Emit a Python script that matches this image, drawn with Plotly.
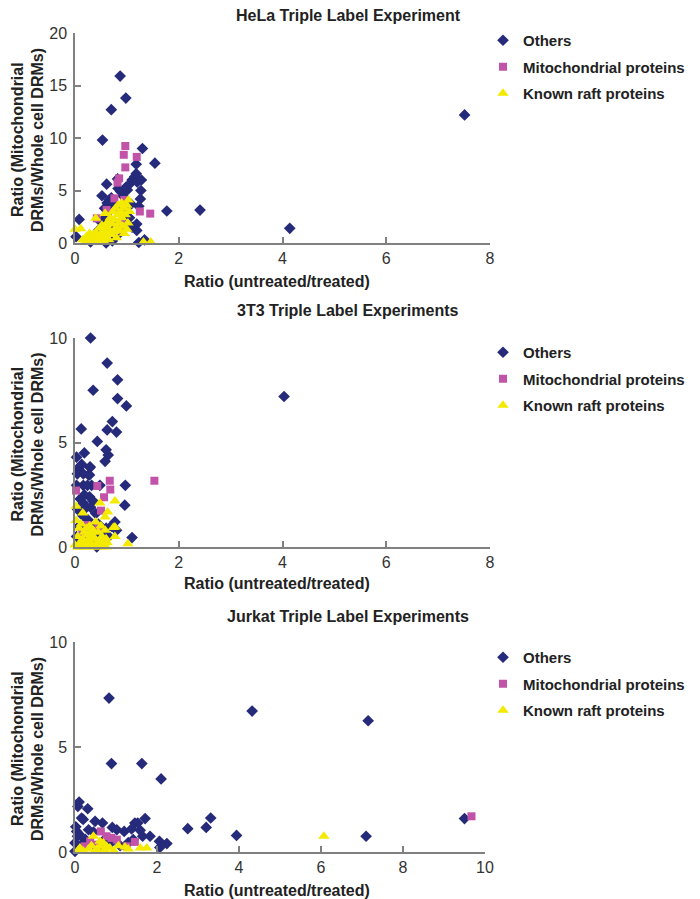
import plotly.graph_objects as go

# page body has an 8px margin, so the figure is drawn 8px in from the top-left corner
OFF = 8
W, H = 700 - OFF, 899 - OFF

# ---------------- Data ----------------
# HeLa
hela_others_x = [0.87,0.98,0.70,7.51,0.53,1.30,1.54,1.18,1.18,1.15,1.10,1.20,1.05,1.28,0.82,0.61,0.83,1.01,1.27,0.52,0.66,0.62,0.70,1.26,1.08,1.23,1.77,2.41,4.14,0.08,0.02,1.19,1.19,1.23,1.34,
                 0.30,0.45,0.50,0.55,0.60,0.65,0.70,0.72,0.75,0.78,0.80,0.85,0.90,0.92,0.95,1.00,1.05,1.10,0.60,0.35,0.88,0.98,0.57,0.68]
hela_others_y = [15.9,13.8,12.7,12.2,9.8,9.0,7.6,7.5,6.6,6.3,6.0,5.8,5.6,6.0,6.1,5.6,5.2,5.05,5.0,4.5,4.1,3.8,4.3,4.2,3.7,3.5,3.05,3.14,1.4,2.25,0.6,1.8,1.2,0.05,0.3,
                 0.1,1.2,2.0,0.5,2.5,1.0,3.2,0.2,2.0,1.4,3.5,0.9,2.8,4.5,1.8,3.0,2.4,1.5,0.0,0.4,4.9,5.3,3.3,3.9]
hela_mito_x = [0.97,0.94,1.19,0.97,0.85,0.82,0.76,0.95,1.25,1.45,0.61,0.42,0.85,0.90]
hela_mito_y = [9.24,8.4,8.2,7.2,6.16,5.75,4.25,4.1,3.0,2.8,3.14,2.35,1.2,2.0]
hela_raft_x = [0.0,0.11,0.40,1.03,1.32,1.46,0.25,0.30,0.33,0.35,0.38,0.40,0.42,0.45,0.47,0.50,0.50,0.52,0.55,0.57,0.58,0.60,0.62,0.63,0.65,0.67,0.68,0.70,0.72,0.73,0.75,0.76,0.78,0.80,0.80,0.82,0.83,0.85,0.86,0.88,0.90,0.90,0.92,0.95,0.97,1.00,1.02,1.05,0.15,0.20,0.22,0.28,0.95,1.00]
hela_raft_y = [1.3,1.35,2.35,4.1,0.1,0.1,0.2,0.5,0.1,0.8,0.3,1.0,0.6,0.2,1.4,0.4,0.9,1.7,0.2,1.1,2.8,0.6,1.5,2.0,0.3,1.2,2.4,0.8,1.8,3.0,1.1,2.2,3.3,1.5,0.5,2.7,3.6,1.9,1.2,3.0,2.4,3.8,1.6,3.3,2.7,3.6,1.9,3.0,0.3,0.1,0.6,0.9,0.9,1.3]

# 3T3
t3_others_x = [0.30,0.62,0.82,0.35,0.82,4.03,0.99,0.72,0.12,0.62,0.80,0.43,0.60,0.18,0.64,0.03,0.58,0.13,0.29,0.07,0.045,0.26,0.03,0.16,0.24,0.32,0.48,0.97,0.28,0.35,0.96,0.10,0.16,0.22,0.77,0.80,1.10,
               0.11,0.29,0.16,0.28,0.05,0.15,0.25,0.40,0.45,0.35,0.20,0.08,0.50,0.55,0.60,0.38,0.12,0.03,0.42,0.65,0.30,0.18,0.70]
t3_others_y = [10.0,8.8,8.0,7.5,7.1,7.2,6.75,6.0,5.65,5.6,5.5,5.05,4.65,4.5,4.4,4.3,4.1,3.95,3.8,3.75,3.5,3.45,2.95,2.95,2.95,2.95,2.95,2.95,2.4,2.2,2.0,2.3,2.1,1.9,1.2,0.8,0.45,
               3.9,3.84,3.5,3.45,1.8,1.5,1.3,1.6,1.1,0.9,0.7,1.0,0.6,0.3,0.9,0.2,0.4,0.5,0.0,0.5,1.9,2.5,1.0]
t3_mito_x = [1.53,0.67,0.68,0.43,0.02,0.56,0.50,0.24,0.15,0.45]
t3_mito_y = [3.17,3.17,2.75,2.92,2.7,2.38,1.74,1.05,0.7,0.95]
t3_raft_x = [0.77,0.48,0.02,0.15,0.02,0.63,0.58,0.77,0.74,0.77,1.02,
             0.0,0.05,0.08,0.10,0.12,0.15,0.18,0.20,0.22,0.25,0.28,0.30,0.32,0.35,0.38,0.40,0.42,0.45,0.48,0.50,0.52,0.55,0.58,0.60,0.62,0.05,0.10,0.20,0.30,0.40,0.50,0.60,0.35,0.25,0.15,0.45]
t3_raft_y = [2.2,2.1,1.95,1.63,1.27,1.67,1.43,0.96,0.93,0.5,0.16,
             0.1,0.5,0.9,0.2,1.1,0.4,0.7,0.05,0.9,0.3,1.0,0.6,0.15,0.8,0.4,1.2,0.2,0.7,0.3,1.0,0.5,0.1,0.8,0.4,0.2,0.0,0.0,0.0,0.0,0.0,0.0,0.0,0.5,0.6,0.25,0.1]

# Jurkat
jk_others_x = [0.83,4.32,7.15,0.89,1.63,2.10,0.10,0.07,0.31,0.16,0.20,0.49,0.67,1.46,1.53,1.71,3.31,9.50,2.75,3.20,0.91,1.02,1.20,1.38,1.59,0.33,3.94,7.10,1.83,2.06,2.24,2.07,0.02,0.04,0.06,0.00,1.65,1.42,0.00,
               0.10,0.25,0.45,0.70,0.85,1.10,1.30,0.55,0.15]
jk_others_y = [7.33,6.71,6.25,4.21,4.21,3.48,2.38,2.17,2.06,1.62,1.55,1.46,1.38,1.38,1.38,1.59,1.62,1.59,1.11,1.17,1.17,1.06,0.98,1.10,1.03,1.06,0.79,0.75,0.75,0.51,0.40,0.22,1.20,0.98,0.75,0.43,0.75,0.59,0.03,
               0.85,0.60,0.95,0.55,0.40,0.30,0.45,0.20,0.35]
jk_mito_x = [9.67,0.63,0.77,1.02,0.89,1.46,0.37,0.24,0.53,1.26]
jk_mito_y = [1.70,0.98,0.75,0.59,0.67,0.48,0.51,0.27,0.35,0.27]
jk_raft_x = [6.07,0.45,0.12,0.69,0.77,0.61,0.53,0.85,0.33,1.06,1.22,1.30,1.59,1.75,0.08,0.61,0.40,0.50,0.72,0.95,0.20]
jk_raft_y = [0.75,0.75,0.19,0.43,0.27,0.27,0.14,0.19,0.14,0.30,0.24,0.14,0.19,0.19,0.08,0.51,0.30,0.05,0.10,0.05,0.05]

titles = ["HeLa Triple Label Experiment", "3T3 Triple Label Experiments", "Jurkat Triple Label Experiments"]
series_names = ["Others", "Mitochondrial proteins", "Known raft proteins"]
xranges = [[0, 8], [0, 8], [0, 10]]
yranges = [[0, 20], [0, 10], [0, 10]]
xticks = [[0, 2, 4, 6, 8], [0, 2, 4, 6, 8], [0, 2, 4, 6, 8, 10]]
yticks = [[0, 5, 10, 15, 20], [0, 5, 10], [0, 5, 10]]

panels = [
    (hela_others_x, hela_others_y, hela_mito_x, hela_mito_y, hela_raft_x, hela_raft_y),
    (t3_others_x, t3_others_y, t3_mito_x, t3_mito_y, t3_raft_x, t3_raft_y),
    (jk_others_x, jk_others_y, jk_mito_x, jk_mito_y, jk_raft_x, jk_raft_y),
]

# ---------------- Layout (screen pixels) ----------------
boxes = [(75, 490, 33, 243), (75, 490, 338, 547), (75, 485, 642, 852)]
title_y = [16, 310, 616]
xtitle_y = [281, 583, 890]
legend_top = [24, 336, 641]
ytitle_x = [17, 37]

colors = ["#262a7a", "#c153a9", "#f4ea00"]
symbols = ["diamond", "square", "triangle-up"]
sizes = [9, 8, 10]

def px(x):
    return (x - OFF) / W

def py(y):
    return 1 - (y - OFF) / H

fig = go.Figure()
FONT = "Liberation Sans, Arial, sans-serif"
TXT = "#222222"
layout = dict(
    width=W, height=H, margin=dict(l=0, r=0, t=0, b=0, autoexpand=False),
    paper_bgcolor="white", plot_bgcolor="white",
    font=dict(family=FONT, color=TXT),
    showlegend=True,
)
annotations = []
for i, (data, box) in enumerate(zip(panels, boxes)):
    sfx = "" if i == 0 else str(i + 1)
    xa, ya = "x" + sfx, "y" + sfx
    leg = "legend" + sfx
    for k in range(3):
        fig.add_trace(go.Scatter(
            x=data[2 * k], y=data[2 * k + 1], mode="markers", name=series_names[k],
            marker=dict(symbol=symbols[k], size=sizes[k], color=colors[k], line=dict(width=0)),
            xaxis=xa, yaxis=ya, legend=leg, legendgroup=f"g{i}{k}", cliponaxis=False,
        ))
    x0, x1, yt, yb = box
    axcommon = dict(showgrid=False, zeroline=False, showline=True, linecolor="#808080", linewidth=1.5,
                    ticks="inside", ticklen=6, tickcolor="#808080", tickwidth=1.5, automargin=False,
                    tickfont=dict(size=16, color="#333333", family=FONT), fixedrange=True)
    layout["xaxis" + sfx] = dict(domain=[px(x0), px(x1)], range=xranges[i], tickvals=xticks[i],
                                 anchor=ya, **axcommon)
    layout["yaxis" + sfx] = dict(domain=[py(yb), py(yt)], range=yranges[i], tickvals=yticks[i],
                                 anchor=xa, ticklabelstandoff=3, **axcommon)
    layout[leg] = dict(x=px(483), y=py(legend_top[i]), xanchor="left", yanchor="top",
                       font=dict(size=15, family=FONT, color=TXT, weight="bold"),
                       bgcolor="rgba(0,0,0,0)", tracegroupgap=4, itemsizing="trace", itemwidth=30)
    annotations.append(dict(text="<b>" + titles[i] + "</b>", x=px(348), y=py(title_y[i]), xref="paper", yref="paper",
                            showarrow=False, xanchor="center", yanchor="middle", font=dict(size=16, color=TXT)))
    annotations.append(dict(text="<b>Ratio (untreated/treated)</b>", x=px(277), y=py(xtitle_y[i]), xref="paper", yref="paper",
                            showarrow=False, xanchor="center", yanchor="middle", font=dict(size=16, color=TXT)))
    yc = (yt + yb) / 2 + 2
    annotations.append(dict(text="<b>Ratio (Mitochondrial</b>", x=px(ytitle_x[0]), y=py(yc), xref="paper", yref="paper",
                            showarrow=False, textangle=-90, xanchor="center", yanchor="middle", font=dict(size=16, color=TXT)))
    annotations.append(dict(text="<b>DRMs/Whole cell DRMs)</b>", x=px(ytitle_x[1]), y=py(yc), xref="paper", yref="paper",
                            showarrow=False, textangle=-90, xanchor="center", yanchor="middle", font=dict(size=16, color=TXT)))

layout["annotations"] = annotations
fig.update_layout(**layout)
fig.write_html("out.html")
